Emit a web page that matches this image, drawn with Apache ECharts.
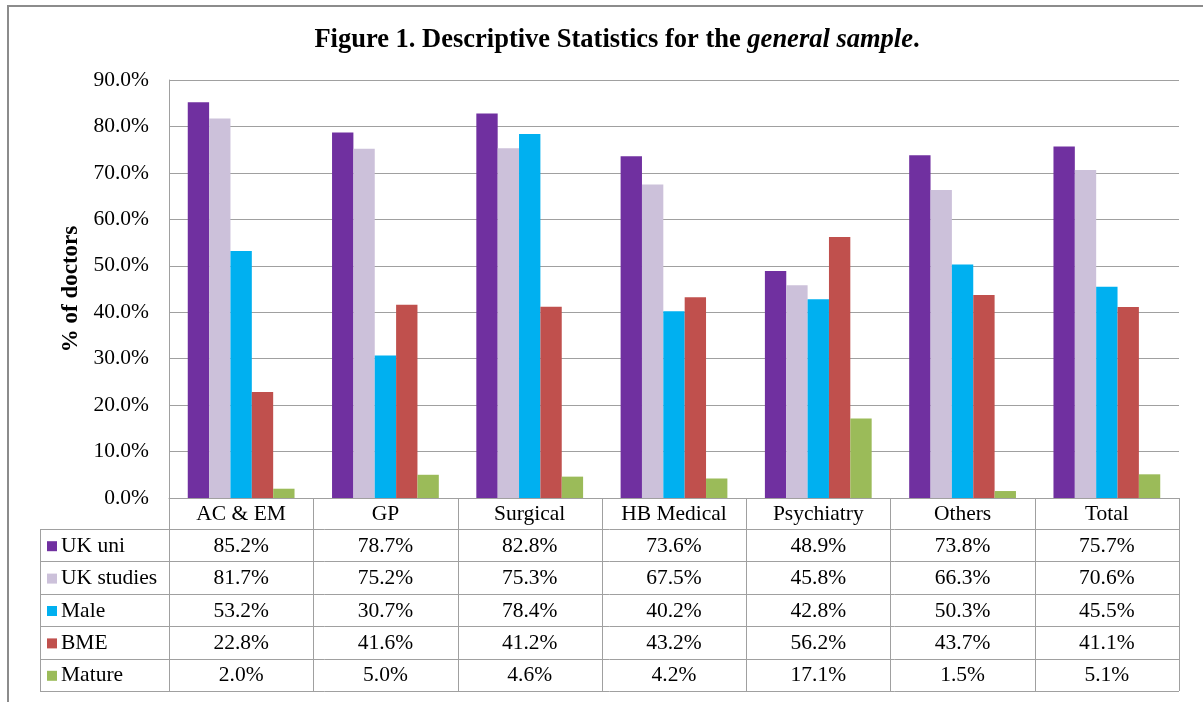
<!DOCTYPE html>
<html><head><meta charset="utf-8">
<script src="https://cdn.jsdelivr.net/npm/echarts@6/dist/echarts.min.js"></script>
<style>html,body{margin:0;padding:0;background:#fff}#c{width:1203px;height:702px}</style>
</head><body><div id="c"></div>
<script>
const categories = ['AC & EM','GP','Surgical','HB Medical','Psychiatry','Others','Total'];
const seriesNames = ['UK uni','UK studies','Male','BME','Mature'];
const ukUni     = [85.2, 78.7, 82.8, 73.6, 48.9, 73.8, 75.7];
const ukStudies = [81.7, 75.2, 75.3, 67.5, 45.8, 66.3, 70.6];
const male      = [53.2, 30.7, 78.4, 40.2, 42.8, 50.3, 45.5];
const bme       = [22.8, 41.6, 41.2, 43.2, 56.2, 43.7, 41.1];
const mature    = [2.0, 5.0, 4.6, 4.2, 17.1, 1.5, 5.1];
const colors = ['#7030a0','#ccc1da','#00b0f0','#c0504d','#9bbb59'];
const allSeries = [ukUni, ukStudies, male, bme, mature];

const W = 1203, H = 702;
const G = {left:169, top:80, right:24, bottom:204};
const plotR = W - G.right, plotB = H - G.bottom;
const colW = (plotR - G.left) / categories.length;
const headH = 31, rowH = 32.4, tableL = 40;
const lineC = '#a0a0a0';
const FONT = '"Liberation Serif", "Times New Roman", serif';
const FS = 21.5;

const chart = echarts.init(document.getElementById('c'));
const g = [];
// outer border
g.push({type:'rect', shape:{x:8,y:6,width:1400,height:900}, style:{fill:'none', stroke:'#8c8c8c', lineWidth:2}, silent:true});
// title
g.push({type:'text', x:617, y:40, style:{text:'{a|Figure 1. Descriptive Statistics for the }{b|general sample}{a|.}', align:'center', verticalAlign:'middle',
  rich:{a:{fontFamily:FONT, fontWeight:'bold', fontSize:26.5, fill:'#000'}, b:{fontFamily:FONT, fontWeight:'bold', fontStyle:'italic', fontSize:26.5, fill:'#000'}}}});
const tableB = plotB + headH + rowH*seriesNames.length;
// horizontal lines of table
for (let i=0;i<=seriesNames.length;i++){
  const y = Math.round(plotB + headH + rowH*i) + 0.5;
  g.push({type:'line', shape:{x1:tableL, y1:y, x2:plotR, y2:y}, style:{stroke:lineC, lineWidth:1}});
}
// vertical lines
g.push({type:'line', shape:{x1:tableL+0.5, y1:plotB+headH, x2:tableL+0.5, y2:tableB}, style:{stroke:lineC, lineWidth:1}});
for (let j=0;j<=categories.length;j++){
  const x = Math.round(G.left + colW*j) + 0.5;
  g.push({type:'line', shape:{x1:x, y1:plotB, x2:x, y2:tableB}, style:{stroke:lineC, lineWidth:1}});
}
// header text
categories.forEach((c,j)=>{
  g.push({type:'text', x:G.left+colW*(j+0.5), y:plotB+headH/2+1, style:{text:c, align:'center', verticalAlign:'middle', fontFamily:FONT, fontSize:FS, fill:'#000'}});
});
// rows
seriesNames.forEach((n,i)=>{
  const cy = plotB + headH + rowH*(i+0.5) + 1;
  g.push({type:'rect', shape:{x:47, y:cy-5, width:10, height:10}, style:{fill:colors[i]}});
  g.push({type:'text', x:61, y:cy, style:{text:n, align:'left', verticalAlign:'middle', fontFamily:FONT, fontSize:FS, fill:'#000'}});
  allSeries[i].forEach((v,j)=>{
    g.push({type:'text', x:G.left+colW*(j+0.5), y:cy, style:{text:v.toFixed(1)+'%', align:'center', verticalAlign:'middle', fontFamily:FONT, fontSize:FS, fill:'#000'}});
  });
});

chart.setOption({
  animation:false,
  backgroundColor:'#fff',
  grid:{left:G.left, top:G.top, right:G.right, bottom:G.bottom},
  xAxis:{type:'category', data:categories, axisLabel:{show:false}, axisTick:{show:false},
    axisLine:{lineStyle:{color:lineC}}},
  yAxis:{type:'value', min:0, max:90, interval:10,
    name:'% of doctors', nameLocation:'middle', nameGap:83, nameRotate:90,
    nameTextStyle:{fontFamily:FONT, fontWeight:'bold', fontSize:23, color:'#000'},
    axisLabel:{formatter:v=>v.toFixed(1)+'%', fontFamily:FONT, fontSize:FS, color:'#000', margin:20},
    axisLine:{show:true, lineStyle:{color:lineC}}, axisTick:{show:false},
    splitLine:{lineStyle:{color:lineC, width:1}}},
  series: seriesNames.map((n,i)=>({name:n, type:'bar', data:allSeries[i], barGap:'0%', barCategoryGap:'26%',
    itemStyle:{color:colors[i]}})),
  graphic:g
});
</script></body></html>
